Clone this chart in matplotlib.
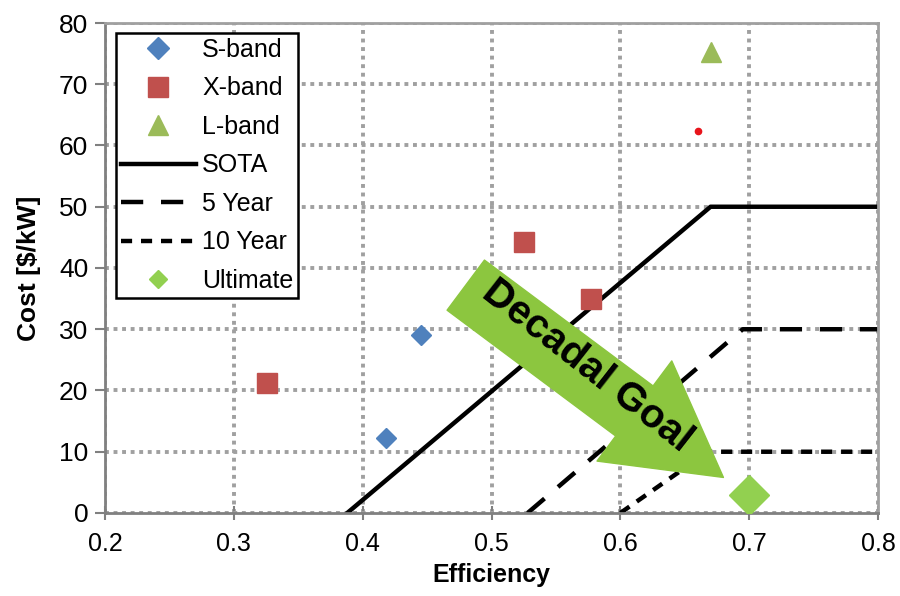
import matplotlib
matplotlib.use("Agg")
import matplotlib.pyplot as plt

# ---------------- data ----------------
s_band_eff = [0.418, 0.445]
s_band_cost = [12.2, 29.0]

x_band_eff = [0.326, 0.525, 0.577]
x_band_cost = [21.2, 44.2, 34.9]

l_band_eff = [0.670]
l_band_cost = [75.2]

ultimate_eff = [0.700]
ultimate_cost = [2.9]

sota_eff = [0.388, 0.670, 0.800]
sota_cost = [0, 50, 50]

five_year_eff = [0.528, 0.695, 0.800]
five_year_cost = [0, 30, 30]

ten_year_eff = [0.600, 0.668, 0.800]
ten_year_cost = [0, 10, 10]

stray_dot = (0.660, 62.3)

arrow_tail = (0.480, 37.2)
arrow_tip = (0.680, 5.8)
# --------------------------------------------------------------

plt.rcParams['font.family'] = ['Liberation Sans', 'DejaVu Sans']

fig = plt.figure(figsize=(9, 5.96), dpi=100)
ax = fig.add_axes([0.1167, 0.1393, 0.8589, 0.8221])

grid_col = '#a0a0a0'
ax.grid(True, color=grid_col, linestyle=(0, (1, 1.2)), linewidth=2.8, zorder=0)
ax.set_axisbelow(True)

ax.plot(s_band_eff, s_band_cost, 'D', color='#4f81bd', markersize=10, label='S-band', zorder=3)
ax.plot(x_band_eff, x_band_cost, 's', color='#c0504d', markersize=14, label='X-band', zorder=3)
ax.plot(l_band_eff, l_band_cost, '^', color='#9bbb59', markersize=15, label='L-band', zorder=3)
ax.plot(sota_eff, sota_cost, '-', color='black', linewidth=3.2, label='SOTA', zorder=2)
ax.plot(five_year_eff, five_year_cost, color='black', linewidth=3.2,
        linestyle=(0, (5, 4)), label='5 Year', zorder=2)
ax.plot(ten_year_eff, ten_year_cost, color='black', linewidth=3.2,
        linestyle=(0, (2.5, 2)), label='10 Year', zorder=2)
ax.plot(ultimate_eff, ultimate_cost, 'D', color='#92d050', markersize=20, label='Ultimate', zorder=3)
ax.plot([stray_dot[0]], [stray_dot[1]], 'o', color='#e8141b', markersize=4.5, zorder=3)

# big green arrow with the "Decadal Goal" text
ax.annotate('', xy=arrow_tip, xytext=arrow_tail,
            arrowprops=dict(arrowstyle='simple, head_length=8.0, head_width=9.0, tail_width=4.5',
                            mutation_scale=10, color='#8cc63f', shrinkA=0, shrinkB=0),
            zorder=4)
ax.text(0.574, 24.0, 'Decadal Goal', rotation=-38, rotation_mode='anchor',
        ha='center', va='center', fontsize=29, fontweight='bold', color='black', zorder=5)

ax.set_xlim(0.2, 0.8)
ax.set_ylim(0, 80)
ax.set_xticks([0.2, 0.3, 0.4, 0.5, 0.6, 0.7, 0.8])
ax.set_xticklabels(['0.2', '0.3', '0.4', '0.5', '0.6', '0.7', '0.8'])
ax.set_yticks(range(0, 81, 10))

ax.tick_params(axis='x', direction='inout', length=10, width=1.5, color='#808080',
               labelsize=18, pad=9)
ax.tick_params(axis='y', direction='out', length=7, width=1.5, color='#808080',
               labelsize=19, pad=5)

for side in ['left', 'bottom']:
    ax.spines[side].set_color('#808080')
    ax.spines[side].set_linewidth(2)
for side in ['top', 'right']:
    ax.spines[side].set_color(grid_col)
    ax.spines[side].set_linewidth(2)
    ax.spines[side].set_linestyle((0, (1, 1)))

ax.set_xlabel('Efficiency', fontsize=18, fontweight='bold')
ax.set_ylabel('Cost [$/kW]', fontsize=19, fontweight='bold')
ax.xaxis.set_label_coords(0.5, -0.103)
ax.yaxis.set_label_coords(-0.083, 0.5)

leg = ax.legend(loc='upper left', bbox_to_anchor=(0.014, 0.98), fontsize=18,
                frameon=True, fancybox=False, edgecolor='black', framealpha=1,
                handlelength=3.0, handletextpad=0.25, labelspacing=0.58,
                borderpad=0.2, borderaxespad=0, numpoints=1)
leg.get_frame().set_linewidth(1.8)
handles = leg.legend_handles
handles[0].set_markersize(11)
handles[1].set_markersize(14)
handles[2].set_markersize(14)
handles[6].set_markersize(9)

fig.savefig('out.png', dpi=100)
